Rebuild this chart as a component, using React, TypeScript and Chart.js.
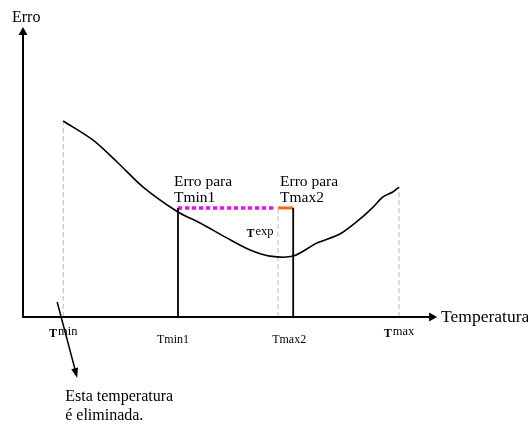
import React, { useEffect, useRef } from "react";
import { Chart, registerables } from "chart.js";

Chart.register(...registerables);

// Schematic curve: error vs temperature (arbitrary units, 0..100 on each axis)
const curveTemp = [9.8, 17.1, 23.2, 29.3, 37.8, 43.2, 49.8, 55.4, 60.2, 65.9, 71.7, 77.3, 82.2, 85.4, 87.8, 90.2, 91.7];
const curveErro = [67.6, 61.0, 53.1, 44.8, 36.2, 32.4, 27.2, 23.1, 21.0, 21.0, 25.5, 28.6, 33.8, 37.9, 41.4, 43.1, 44.8];

const tMin = 9.8;
const tMin1 = 37.8;
const tExp = 62.2;
const tMax2 = 65.9;
const tMax = 91.7;
const erroNivel = 37.6;
const erroTMin = 67.6;
const erroTMax = 44.8;

const SERIF = '"Liberation Serif", "DejaVu Serif", serif';

const vline = (x: number, top: number, color: string, width: number, dash: number[] = []) => ({
  type: "line" as const,
  data: [
    { x, y: 0 },
    { x, y: top },
  ],
  borderColor: color,
  borderWidth: width,
  borderDash: dash,
  pointRadius: 0,
  clip: false as any,
  tension: 0,
});

function arrowHead(ctx: CanvasRenderingContext2D, x1: number, y1: number, x2: number, y2: number, len: number, half: number) {
  const a = Math.atan2(y2 - y1, x2 - x1);
  const bx = x2 - len * Math.cos(a);
  const by = y2 - len * Math.sin(a);
  ctx.beginPath();
  ctx.moveTo(x2, y2);
  ctx.lineTo(bx + half * Math.sin(a), by - half * Math.cos(a));
  ctx.lineTo(bx - half * Math.sin(a), by + half * Math.cos(a));
  ctx.closePath();
  ctx.fill();
}

const decorPlugin = {
  id: "decor",
  afterDatasetsDraw(chart: any) {
    const { ctx, scales } = chart;
    const xs = scales.x;
    const ys = scales.y;
    const X = (v: number) => xs.getPixelForValue(v);
    const Y = (v: number) => ys.getPixelForValue(v);
    ctx.save();
    ctx.fillStyle = "#000";
    ctx.strokeStyle = "#000";

    // axes
    ctx.lineWidth = 2;
    ctx.beginPath();
    ctx.moveTo(X(0), Y(0) + 1);
    ctx.lineTo(X(0), Y(98));
    ctx.moveTo(X(0) - 1, Y(0));
    ctx.lineTo(X(99.5), Y(0));
    ctx.stroke();
    arrowHead(ctx, X(0), Y(0), X(0), Y(100), 8, 4.5);
    arrowHead(ctx, X(0), Y(0), X(101), Y(0), 8, 4.5);

    // axis titles
    ctx.textAlign = "left";
    ctx.textBaseline = "alphabetic";
    ctx.font = `16px ${SERIF}`;
    ctx.fillText("Erro", X(0) - 11, Y(100) - 5);
    ctx.font = `17.5px ${SERIF}`;
    ctx.fillText("Temperatura", X(101) + 4, Y(0) + 5);

    // tick labels
    const sub = (big: string, small: string, x: number, y: number) => {
      ctx.font = `bold 12px ${SERIF}`;
      const w = ctx.measureText(big).width;
      ctx.font = `12.5px ${SERIF}`;
      const w2 = ctx.measureText(small).width;
      const left = x - (w + w2 + 1) / 2;
      ctx.font = `bold 12px ${SERIF}`;
      ctx.fillText(big, left, y);
      ctx.font = `12.5px ${SERIF}`;
      ctx.fillText(small, left + w + 1, y - 2);
    };
    sub("T", "min", X(tMin), Y(0) + 20);
    sub("T", "max", X(tMax), Y(0) + 20);
    sub("T", "exp", X(tExp) - 18, Y(27.6));
    ctx.font = `12px ${SERIF}`;
    ctx.textAlign = "center";
    ctx.fillText("Tmin1", X(tMin1) - 5, Y(0) + 26);
    ctx.fillText("Tmax2", X(tMax2) - 4, Y(0) + 26);

    // annotations
    ctx.textAlign = "left";
    ctx.font = `15.5px ${SERIF}`;
    ctx.fillText("Erro para", X(tMin1) - 4, Y(erroNivel) - 22);
    ctx.fillText("Tmin1", X(tMin1) - 4, Y(erroNivel) - 6);
    ctx.fillText("Erro para", X(tExp) + 2, Y(erroNivel) - 22);
    ctx.fillText("Tmax2", X(tExp) + 2, Y(erroNivel) - 6);

    ctx.font = `16px ${SERIF}`;
    ctx.fillText("Esta temperatura", X(tMin) + 2, Y(0) + 84);
    ctx.fillText("é eliminada.", X(tMin) + 2, Y(0) + 103);

    // pointer arrow
    const ax1 = X(tMin) - 6, ay1 = Y(0) - 15;
    const ax2 = X(tMin) + 14, ay2 = Y(0) + 61;
    ctx.lineWidth = 1.5;
    ctx.beginPath();
    ctx.moveTo(ax1, ay1);
    ctx.lineTo(ax2 - 2, ay2 - 8);
    ctx.stroke();
    arrowHead(ctx, ax1, ay1, ax2, ay2, 10, 3.5);

    ctx.restore();
  },
};

export default function App() {
  const ref = useRef<HTMLCanvasElement | null>(null);
  useEffect(() => {
    document.body.style.margin = "0";
    const canvas = ref.current!;
    const chart = new Chart(canvas, {
      type: "line",
      data: {
        datasets: [
          {
            data: curveTemp.map((t, i) => ({ x: t, y: curveErro[i] })),
            borderColor: "#000",
            borderWidth: 1.6,
            pointRadius: 0,
            tension: 0.3,
            borderJoinStyle: "round",
            clip: false as any,
          },
          vline(tMin, erroTMin, "#b8b8b8", 1, [5, 3]),
          vline(tExp, erroNivel, "#b8b8b8", 1, [5, 3]),
          vline(tMax, erroTMax, "#b8b8b8", 1, [5, 3]),
          vline(tMin1, erroNivel, "#000", 1.8),
          vline(tMax2, erroNivel, "#000", 1.8),
          {
            data: [
              { x: tMin1, y: erroNivel },
              { x: tExp - 0.5, y: erroNivel },
            ],
            borderColor: "#ff00ff",
            borderWidth: 3.5,
            borderDash: [4, 3],
            pointRadius: 0,
            clip: false as any,
          },
          {
            data: [
              { x: tExp, y: erroNivel },
              { x: tMax2, y: erroNivel },
            ],
            borderColor: "#ff6a00",
            borderWidth: 3,
            pointRadius: 0,
            clip: false as any,
          },
        ] as any,
      },
      options: {
        animation: false,
        responsive: false,
        events: [],
        layout: { padding: { left: 23, right: 95, top: 27, bottom: 107 } },
        plugins: { legend: { display: false }, tooltip: { enabled: false } },
        scales: {
          x: { type: "linear", min: 0, max: 100, display: false },
          y: { type: "linear", min: 0, max: 100, display: false },
        },
      },
      plugins: [decorPlugin],
    });
    return () => chart.destroy();
  }, []);
  return <canvas ref={ref} width={528} height={424} style={{ display: "block" }} />;
}
